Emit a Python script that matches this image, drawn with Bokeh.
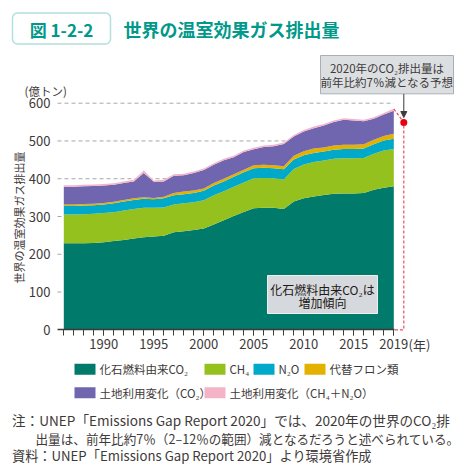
from math import pi
from bokeh.plotting import figure
from bokeh.models import (ColumnDataSource, Range1d, FixedTicker, LinearAxis,
                          BoxAnnotation, Arrow, NormalHead)
from bokeh.core.properties import value
from bokeh.embed import file_html
from bokeh.resources import INLINE

# ---------------- data ----------------
years = list(range(1986, 2020))
fossil_co2 = [229, 229, 229, 230, 232, 235, 238, 242, 245, 247, 249, 258, 261, 264, 268,
              279, 290, 301, 312, 322, 323, 323, 320, 340, 348, 353, 357, 360, 361, 361,
              362, 371, 376, 380]
ch4 = [76, 76, 77, 77, 77, 76, 78, 78, 78, 76, 75, 74, 74, 74, 75,
       77, 77, 78, 78, 79, 79, 78, 78, 86, 90, 91, 91, 93, 93, 93,
       93, 95, 99, 99]
n2o = [23, 23, 23, 23, 23, 24, 24, 24, 24, 23, 24, 24, 24, 24, 25,
       26, 26, 26, 27, 27, 27, 27, 27, 25, 24, 24, 24, 24, 25, 25,
       25, 25, 26, 27]
f_gases = [4, 4, 4, 4, 4, 4, 4, 4, 4, 3, 4, 6, 7, 7, 6,
           7, 7, 7, 7, 8, 8, 8, 8, 10, 11, 12, 11, 11, 11, 11,
           11, 12, 12, 13]
luc_co2 = [47, 47, 47, 47, 46, 45, 45, 45, 64, 43, 41, 46, 43, 46, 49,
           48, 49, 45, 47, 42, 47, 50, 59, 51, 52, 54, 58, 62, 66, 64,
           61, 56, 57, 61]
luc_ch4_n2o = [4, 4, 4, 4, 4, 4, 4, 4, 7, 3, 4, 4, 4, 4, 4,
               4, 4, 4, 4, 4, 4, 4, 4, 4, 4, 4, 4, 4, 4, 4,
               4, 4, 4, 5]
proj_year = 2020
proj_value_2020 = 549

y_ticks = [0, 100, 200, 300, 400, 500, 600]
grid_values = [100, 200, 300, 400, 500, 600]
x_label_years = [1990, 1995, 2000, 2005, 2010, 2015, 2019]

series = ["fossil_co2", "ch4", "n2o", "f_gases", "luc_co2", "luc_ch4_n2o"]
legend_labels = ["化石燃料由来CO₂", "CH₄", "N₂O", "代替フロン類",
                 "土地利用変化（CO₂）", "土地利用変化（CH₄＋N₂O）"]
colors = ["#007a6a", "#95c11f", "#00a8c9", "#e3b100", "#7066b0", "#f5b3c8"]

title_no = "図 1-2-2"
title_text = "世界の温室効果ガス排出量"
y_title = "世界の温室効果ガス排出量"
unit_text = "(億トン)"
year_unit = "(年)"
callout_lines = ["2020年のCO₂排出量は", "前年比約7％減となる予想"]
inner_lines = ["化石燃料由来CO₂は", "増加傾向"]
notes = ["注：UNEP「Emissions Gap Report 2020」では、2020年の世界のCO₂排",
         "出量は、前年比約7％（2–12％の範囲）減となるだろうと述べられている。",
         "資料：UNEP「Emissions Gap Report 2020」より環境省作成"]

# ---------------- geometry (picture pixels -> data) ----------------
FONT = "Noto Sans CJK JP"
TEAL = "#00998a"
INK = "#3e3a39"
W, H = 462, 468
FIRST_PX = 63.3          # picture x of first year
PX_YEAR = 10.0
ZERO_PY = 329.3          # picture y of value 0
PX_UNIT = 226.6 / 600.0  # px per unit


def dx(px):
    return years[0] + (px - FIRST_PX) / PX_YEAR


def dy(py):
    return (ZERO_PY - py) / PX_UNIT


p = figure(width=W, height=H,
           x_range=Range1d(dx(0), dx(W)),
           y_range=Range1d(dy(H), dy(0)),
           x_axis_location=None, y_axis_location=None,
           toolbar_location=None, output_backend="svg", outline_line_color=None,
           min_border=0)
p.grid.visible = False

PLOT_LEFT = dx(57)

# gridlines (behind areas)
p.segment(x0=[PLOT_LEFT] * len(grid_values), x1=[years[-1]] * len(grid_values),
          y0=grid_values, y1=grid_values, line_color="#a8a8a8", line_width=1,
          line_dash="4 3")

source = ColumnDataSource(dict(year=years, fossil_co2=fossil_co2, ch4=ch4, n2o=n2o,
                               f_gases=f_gases, luc_co2=luc_co2, luc_ch4_n2o=luc_ch4_n2o))
p.varea_stack(stackers=series, x="year", color=colors, source=source)

total_2019 = (fossil_co2[-1] + ch4[-1] + n2o[-1] + f_gases[-1] + luc_co2[-1] + luc_ch4_n2o[-1])
p.line(x=[years[-1], proj_year, proj_year, years[-1]],
       y=[total_2019, proj_value_2020, 0, 0],
       line_color="#e8505b", line_width=1.2, line_dash="3 2")
p.scatter(x=[proj_year], y=[proj_value_2020], size=7, fill_color="#e60012", line_color=None)

# axes (fixed inside the canvas)
xa = LinearAxis(fixed_location=0)
xa.bounds = (PLOT_LEFT, years[-1] + 0.05)
xa.ticker = FixedTicker(ticks=x_label_years, minor_ticks=years)
xa.axis_line_color = INK
xa.axis_line_width = 1.5
xa.major_tick_line_color = INK
xa.minor_tick_line_color = INK
xa.major_tick_in = 0
xa.major_tick_out = 6
xa.minor_tick_in = 0
xa.minor_tick_out = 6
xa.major_label_standoff = 3
xa.major_label_text_font = FONT
xa.major_label_text_font_size = "13px"
xa.major_label_text_color = INK
p.add_layout(xa, "below")

ya = LinearAxis(fixed_location=PLOT_LEFT)
ya.bounds = (0, 600)
ya.ticker = FixedTicker(ticks=y_ticks)
ya.axis_line_color = None
ya.major_tick_line_color = None
ya.minor_tick_line_color = None
ya.major_tick_in = 0
ya.major_tick_out = 0
ya.minor_tick_in = 0
ya.minor_tick_out = 0
ya.major_label_standoff = 7
ya.major_label_text_font = FONT
ya.major_label_text_font_size = "13px"
ya.major_label_text_color = INK
p.add_layout(ya, "left")

# ---- title strip ----
p.add_layout(BoxAnnotation(left=dx(12), right=dx(110), top=dy(12.5), bottom=dy(43.5),
                           border_radius=5, fill_alpha=0, line_color=TEAL, line_width=1.5))
p.text(x=[dx(61)], y=[dy(28.5)], text=[title_no], text_font=value(FONT),
       text_font_style="bold", text_font_size="17px", text_color=TEAL,
       text_align="center", text_baseline="middle")
p.text(x=[dx(123)], y=[dy(28.5)], text=[title_text], text_font=value(FONT),
       text_font_style="bold", text_font_size="18px", text_color=TEAL,
       text_align="left", text_baseline="middle")

# ---- callout ----
p.quad(left=[dx(320)], right=[dx(453)], top=[dy(55)], bottom=[dy(93.3)],
       fill_color="#dcdfe2", line_color="#a9afb4", line_width=1)
p.text(x=[dx(386.5)] * 2, y=[dy(67), dy(81.3)], text=callout_lines, text_font=value(FONT),
       text_font_size="11.5px", text_color=INK, text_align="center", text_baseline="middle")
p.add_layout(Arrow(end=NormalHead(size=6, fill_color=INK, line_color=INK),
                   x_start=proj_year, y_start=dy(93.5), x_end=proj_year, y_end=dy(117),
                   line_color=INK, line_width=1))

# ---- inner note ----
p.quad(left=[dx(267)], right=[dx(377)], top=[dy(275)], bottom=[dy(313)],
       fill_color="#d5d9dd", line_color="#eceef0", line_width=1)
p.text(x=[dx(322)] * 2, y=[dy(288.5), dy(301.5)], text=inner_lines, text_font=value(FONT),
       text_font_size="12px", text_color="#231815", text_align="center",
       text_baseline="middle")

# ---- axis titles ----
p.text(x=[dx(24)], y=[dy(90.5)], text=[unit_text], text_font=value(FONT),
       text_font_size="11.5px", text_color=INK, text_align="left", text_baseline="middle")
p.text(x=[dx(18)], y=[dy(217)], text=[y_title], angle=pi / 2, text_font=value(FONT),
       text_font_size="11px", text_color=INK, text_align="center", text_baseline="middle")
p.text(x=[dx(408)], y=[dy(343.5)], text=[year_unit], text_font=value(FONT),
       text_font_size="13px", text_color=INK, text_align="left", text_baseline="middle")

# ---- legend ----
sw_x = [74, 204, 253, 304, 74, 204]
sw_y = [368.8, 368.8, 368.8, 368.8, 392.2, 392.2]
p.quad(left=[dx(v) for v in sw_x], right=[dx(v + 21) for v in sw_x],
       top=[dy(v - 5.5) for v in sw_y], bottom=[dy(v + 5.5) for v in sw_y],
       fill_color=colors, line_color=None)
p.text(x=[dx(v + 25) for v in sw_x], y=[dy(v) for v in sw_y], text=legend_labels,
       text_font=value(FONT), text_font_size="11.5px", text_color=INK,
       text_align="left", text_baseline="middle")

# ---- notes ----
note_x = [11.5, 35, 11.5]
note_y = [419, 437.5, 454.5]
note_size = ["13.6px", "12.6px", "13.2px"]
for nx, ny, ns, nt in zip(note_x, note_y, note_size, notes):
    p.text(x=[dx(nx)], y=[dy(ny)], text=[nt], text_font=value(FONT),
           text_font_size=ns, text_color=INK, text_align="left", text_baseline="middle")

open("out.html", "w").write(file_html(p, INLINE))
